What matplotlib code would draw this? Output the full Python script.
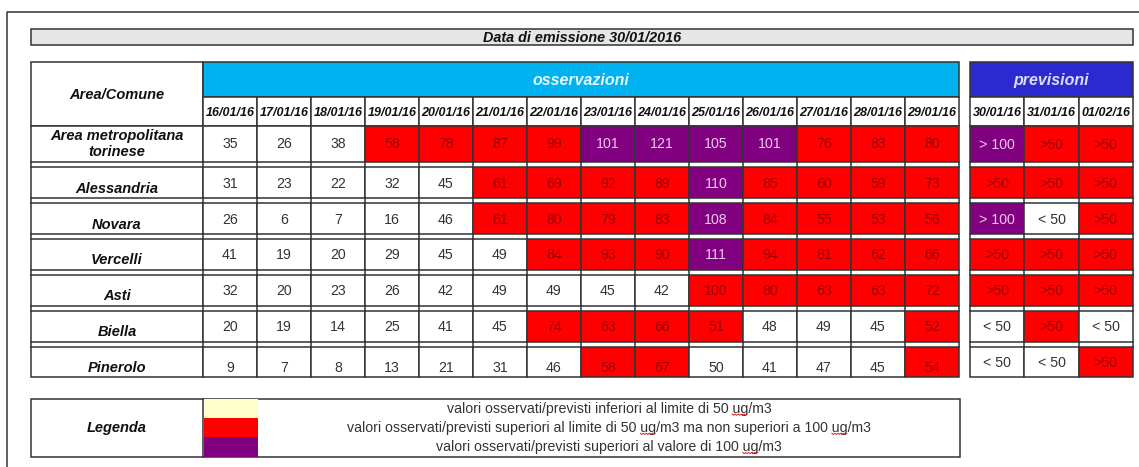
import matplotlib
matplotlib.use('Agg')
import matplotlib.pyplot as plt
from matplotlib.patches import Rectangle
import numpy as np

# ---------------- data ----------------
title = "Data di emissione 30/01/2016"
obs_header = "osservazioni"
fc_header = "previsioni"
corner_label = "Area/Comune"
areas = ["Area metropolitana\ntorinese", "Alessandria", "Novara", "Vercelli",
         "Asti", "Biella", "Pinerolo"]
obs_dates = ["16/01/16", "17/01/16", "18/01/16", "19/01/16", "20/01/16",
             "21/01/16", "22/01/16", "23/01/16", "24/01/16", "25/01/16",
             "26/01/16", "27/01/16", "28/01/16", "29/01/16"]
fc_dates = ["30/01/16", "31/01/16", "01/02/16"]
obs_values = [
    [35, 26, 38, 58, 78, 87, 99, 101, 121, 105, 101, 76, 83, 80],
    [31, 23, 22, 32, 45, 61, 69, 92, 89, 110, 85, 60, 59, 73],
    [26, 6, 7, 16, 46, 61, 80, 79, 83, 108, 84, 55, 53, 56],
    [41, 19, 20, 29, 45, 49, 84, 93, 90, 111, 94, 81, 62, 66],
    [32, 20, 23, 26, 42, 49, 49, 45, 42, 100, 80, 63, 63, 72],
    [20, 19, 14, 25, 41, 45, 74, 63, 66, 51, 48, 49, 45, 52],
    [9, 7, 8, 13, 21, 31, 46, 58, 67, 50, 41, 47, 45, 54],
]
fc_values = [
    ["> 100", ">50", ">50"],
    [">50", ">50", ">50"],
    ["> 100", "< 50", ">50"],
    [">50", ">50", ">50"],
    [">50", ">50", ">50"],
    ["< 50", ">50", "< 50"],
    ["< 50", "< 50", ">50"],
]
legend_title = "Legenda"
legend_labels = [
    "valori osservati/previsti inferiori al limite di 50 ug/m3",
    "valori osservati/previsti superiori al limite di 50 ug/m3 ma non superiori a 100 ug/m3",
    "valori osservati/previsti superiori al valore di 100 ug/m3",
]

# ---------------- style ----------------
W, H = 1139, 467
C_LINE = '#333333'
C_RED = '#ff0000'
C_PURPLE = '#800080'
C_WHITE = '#ffffff'
C_YELLOW = '#ffffcc'
C_OBS = '#00b2f0'
C_FC = '#2a2ad0'
C_TITLE = '#e6e6e6'
legend_colors = [C_YELLOW, C_RED, C_PURPLE]
FONT = ['Liberation Sans', 'DejaVu Sans']
NARROW = ['Liberation Sans Narrow', 'Liberation Sans', 'DejaVu Sans']
LW = 1.1
FS_NUM = 10.2
FS_DATE = 9.0
FS_LAB = 10.5


def cell_style(v):
    if isinstance(v, str):
        if '100' in v:
            return C_PURPLE, '#f2c8f2'
        if '>' in v:
            return C_RED, '#9a0000'
        return C_WHITE, '#333333'
    if v > 100:
        return C_PURPLE, '#f2c8f2'
    if v > 50:
        return C_RED, '#9a0000'
    return C_WHITE, '#333333'


fig = plt.figure(figsize=(W / 100, H / 100), dpi=100)
ax = fig.add_axes([0, 0, 1, 1])
ax.set_xlim(0, W)
ax.set_ylim(H, 0)
ax.axis('off')


def rect(x0, y0, x1, y1, fc, ec=C_LINE, lw=LW, z=1):
    ax.add_patch(Rectangle((x0, y0), x1 - x0, y1 - y0, facecolor=fc,
                           edgecolor=ec, linewidth=lw, zorder=z))


# outer frame
ax.plot([7, 7, W], [H, 12, 12], color=C_LINE, lw=LW, solid_capstyle='butt')

# title bar
rect(31, 29, 1133, 45, C_TITLE)
ax.text((31 + 1133) / 2, 37.5, title, ha='center', va='center', fontsize=10.4,
        fontweight='bold', fontstyle='italic', family=FONT, color='#111111')

# geometry
L = 31
LABEL_R = 203
CW = 54
OBS_L = LABEL_R
OBS_R = OBS_L + CW * len(obs_dates)
FC_L = 970
FCW = 54.3
FC_R = FC_L + FCW * len(fc_dates)
HEAD_T, HEAD_B, DATE_B = 62, 97, 126

row_tops, row_bots = [], []
top = DATE_B
for i in range(len(areas)):
    h = 36 if i == 0 else 30.5
    row_tops.append(top)
    row_bots.append(top + h)
    top = top + h + 5.4
num_off = [0, 1, 1, 1, 1, 1, 6]
lab_off = [0, 6, 6, 6, 6, 6, 6]

# header
rect(L, HEAD_T, LABEL_R, DATE_B, C_WHITE)
ax.text((L + LABEL_R) / 2, 95, corner_label, ha='center', va='center',
        fontsize=FS_LAB, fontweight='bold', fontstyle='italic', family=FONT, color='#111111')
rect(OBS_L, HEAD_T, OBS_R, HEAD_B, C_OBS)
ax.text((OBS_L + OBS_R) / 2, (HEAD_T + HEAD_B) / 2 + 1, obs_header, ha='center', va='center',
        fontsize=11.5, fontweight='bold', fontstyle='italic', family=FONT, color='#e4f6ff')
rect(FC_L, HEAD_T, FC_R, HEAD_B, C_FC)
ax.text((FC_L + FC_R) / 2, (HEAD_T + HEAD_B) / 2 + 1, fc_header, ha='center', va='center',
        fontsize=11.5, fontweight='bold', fontstyle='italic', family=FONT, color='#dcdcff')
for j, d in enumerate(obs_dates):
    x0 = OBS_L + j * CW
    rect(x0, HEAD_B, x0 + CW, DATE_B, C_WHITE)
    ax.text(x0 + CW / 2, (HEAD_B + DATE_B) / 2 + 1, d, ha='center', va='center',
            fontsize=FS_DATE, fontweight='bold', fontstyle='italic', family=FONT, color='#111111')
for j, d in enumerate(fc_dates):
    x0 = FC_L + j * FCW
    rect(x0, HEAD_B, x0 + FCW, DATE_B, C_WHITE)
    ax.text(x0 + FCW / 2, (HEAD_B + DATE_B) / 2 + 1, d, ha='center', va='center',
            fontsize=FS_DATE, fontweight='bold', fontstyle='italic', family=FONT, color='#111111')

# body rows
obs_edges = [L, LABEL_R] + [OBS_L + (j + 1) * CW for j in range(len(obs_dates))]
fc_edges = [FC_L + j * FCW for j in range(len(fc_dates) + 1)]
for i, area in enumerate(areas):
    t, b = row_tops[i], row_bots[i]
    cy = (t + b) / 2
    rect(L, t, LABEL_R, b, C_WHITE)
    ax.text((L + LABEL_R) / 2, cy + lab_off[i], area, ha='center', va='center',
            fontsize=FS_LAB, fontweight='bold', fontstyle='italic', family=FONT,
            color='#111111', linespacing=1.1)
    for j, v in enumerate(obs_values[i]):
        x0 = OBS_L + j * CW
        fc, tc = cell_style(v)
        rect(x0, t, x0 + CW, b, fc)
        ax.text(x0 + CW / 2, cy + num_off[i], str(v), ha='center', va='center',
                fontsize=FS_NUM, family=FONT, color=tc)
    for j, v in enumerate(fc_values[i]):
        x0 = FC_L + j * FCW
        fc, tc = cell_style(v)
        rect(x0, t, x0 + FCW, b, fc)
        ax.text(x0 + FCW / 2, cy + 1, v, ha='center', va='center',
                fontsize=FS_NUM, family=FONT, color=tc)
    # separators between rows (double lines with vertical continuations)
    if i < len(areas) - 1:
        nt = row_tops[i + 1]
        for x in obs_edges + fc_edges:
            ax.plot([x, x], [b, nt], color=C_LINE, lw=LW, zorder=2)

# legend
LEG_T, LEG_B = 399, 456.5
SW_R = 258
LEG_R = 960
rect(L, LEG_T, LEG_R, LEG_B, C_WHITE)
ax.plot([LABEL_R, LABEL_R], [LEG_T, LEG_B], color=C_LINE, lw=LW, zorder=3)
ax.text((L + LABEL_R) / 2, (LEG_T + LEG_B) / 2, legend_title, ha='center', va='center',
        fontsize=FS_LAB, fontweight='bold', fontstyle='italic', family=FONT, color='#111111')
sh = (LEG_B - LEG_T) / len(legend_colors)
renderer = fig.canvas.get_renderer()
for k, (c, lab) in enumerate(zip(legend_colors, legend_labels)):
    y0 = LEG_T + k * sh
    ax.add_patch(Rectangle((LABEL_R + 0.6, y0), SW_R - LABEL_R - 0.6, sh,
                           facecolor=c, edgecolor='none', zorder=2))
    props = dict(fontsize=10.2, family=NARROW, color='#333333')
    txt = ax.text((SW_R + LEG_R) / 2, y0 + sh / 2, lab, ha='center', va='center', **props)
    bb = txt.get_window_extent(renderer)
    # spell-check style red squiggle under "ug"
    start = 0
    while True:
        idx = lab.find('ug', start)
        if idx < 0:
            break
        start = idx + 2
        widths = []
        for sub in (lab[:idx], lab[:idx + 2]):
            tmp = ax.text(0, 0, sub if sub.strip() else '', **props)
            wb = tmp.get_window_extent(renderer)
            widths.append(wb.width if sub else 0)
            tmp.remove()
        xs0 = bb.x0 + widths[0]
        xs1 = bb.x0 + widths[1]
        ybase = H - bb.y0 - 1.5
        xx = np.arange(xs0, xs1 + 0.1, 1.5)
        yy = ybase + np.where(np.arange(len(xx)) % 2 == 0, 0, 1.2)
        ax.plot(xx, yy, color='#dd2222', lw=0.7, zorder=4)

fig.savefig('out.png', dpi=100)
